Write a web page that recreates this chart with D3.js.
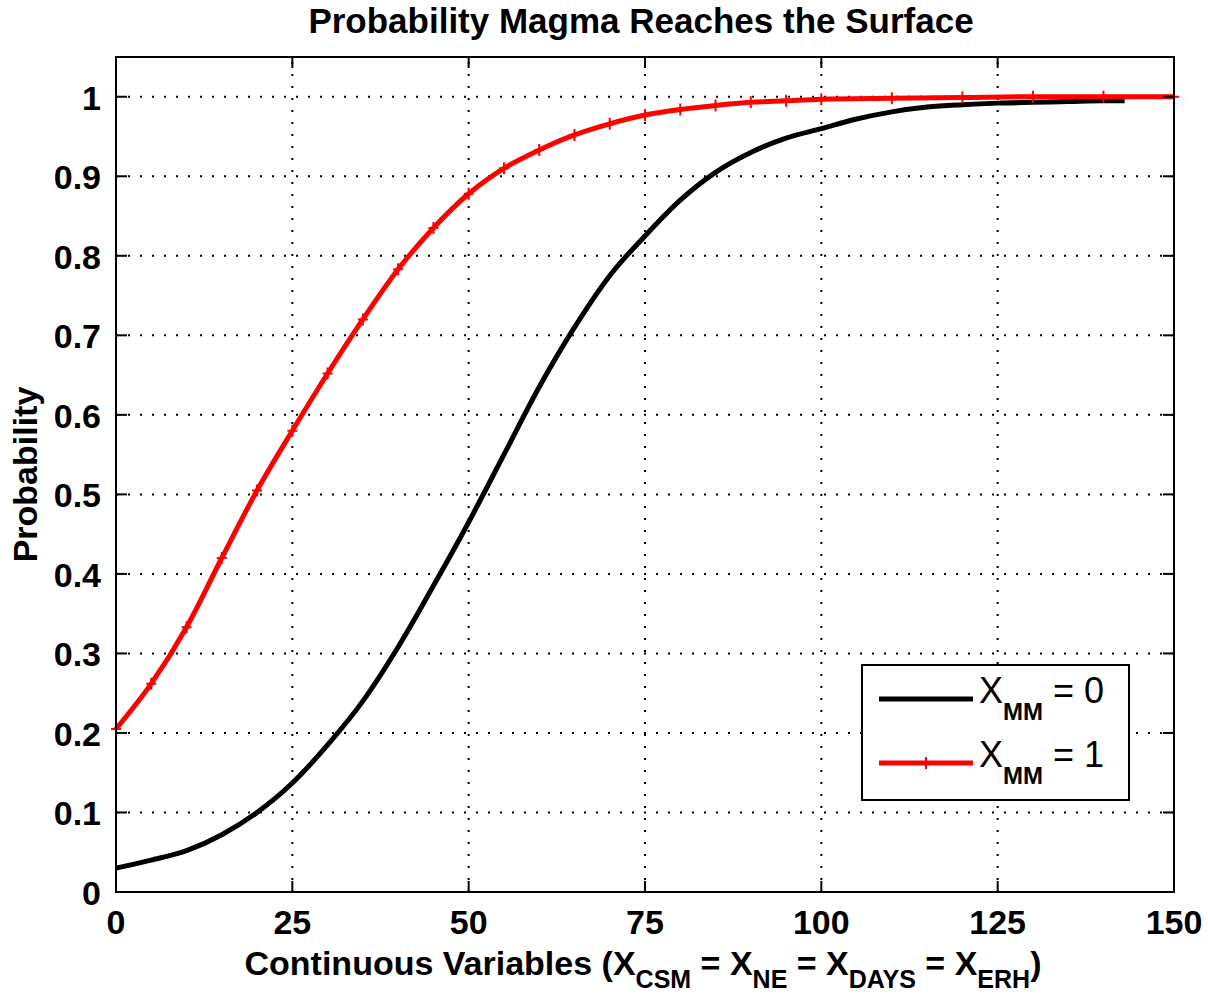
<!DOCTYPE html>
<html>
<head>
<meta charset="utf-8">
<script src="https://cdn.jsdelivr.net/npm/d3@7"></script>
<style>
  body { margin: 0; background: #fff; }
  svg text { font-family: "Liberation Sans", Arial, sans-serif; font-weight: bold; fill: #000; }
</style>
</head>
<body>
<div id="chart"></div>
<script>
// values
var xValues = [0, 5, 10, 15, 20, 25, 30, 35, 40, 45, 50, 55, 60, 65, 70, 75, 80, 85, 90, 95, 100, 105, 110, 115, 120, 125, 130, 135, 140, 143]
var mm0 = [0.030, 0.040, 0.052, 0.072, 0.100, 0.137, 0.185, 0.240, 0.308, 0.385, 0.465, 0.550, 0.635, 0.710, 0.775, 0.825, 0.870, 0.905, 0.930, 0.948, 0.960, 0.972, 0.981, 0.987, 0.990, 0.992, 0.993, 0.994, 0.995, 0.995]

var xValuesRed = [0, 5, 10, 15, 20, 25, 30, 35, 40, 45, 50, 55, 60, 65, 70, 75, 80, 85, 90, 95, 100, 110, 120, 130, 140, 150]
var mm1 = [0.205, 0.262, 0.333, 0.420, 0.505, 0.580, 0.652, 0.720, 0.783, 0.835, 0.878, 0.910, 0.933, 0.952, 0.966, 0.977, 0.984, 0.989, 0.993, 0.995, 0.997, 0.998, 0.999, 1.0, 1.0, 1.0]

var xTicks = [0, 25, 50, 75, 100, 125, 150]
var yTicks = [0, 0.1, 0.2, 0.3, 0.4, 0.5, 0.6, 0.7, 0.8, 0.9, 1]

var seriesNames = ['0', '1']
var seriesColors = ['#000', '#f00']


var W = 1208, H = 1000
var margin = {left: 116, top: 57, right: 34, bottom: 108}
var width = W - margin.left - margin.right
var height = H - margin.top - margin.bottom

var svg = d3.select('#chart').append('svg')
  .attr('width', W).attr('height', H)

var x = d3.scaleLinear().domain([0, 150]).range([margin.left, margin.left + width])
var y = d3.scaleLinear().domain([0, 1.05]).range([margin.top + height, margin.top])

// dotted grid
var grid = svg.append('g')
grid.selectAll('line.gx').data(xTicks.slice(1, -1)).join('line')
  .attr('x1', d => x(d)).attr('x2', d => x(d))
  .attr('y1', y(0)).attr('y2', y(1.05))
grid.selectAll('line.gy').data(yTicks.slice(1)).join('line')
  .attr('class', 'gy')
  .attr('x1', x(0)).attr('x2', x(150))
  .attr('y1', d => y(d)).attr('y2', d => y(d))
grid.selectAll('line')
  .attr('stroke', '#000').attr('stroke-width', 2)
  .attr('stroke-dasharray', '2,10')

// curves
var line = d3.line().curve(d3.curveMonotoneX)
var curves = [
  {pts: xValues.map((d, i) => [d, mm0[i]]), color: seriesColors[0]},
  {pts: xValuesRed.map((d, i) => [d, mm1[i]]), color: seriesColors[1], marker: true}
]
curves.forEach(function(c){
  svg.append('path')
    .attr('d', line(c.pts.map(p => [x(p[0]), y(p[1])])))
    .attr('fill', 'none').attr('stroke', c.color).attr('stroke-width', 5)
    .attr('stroke-linejoin', 'round')
  if (c.marker){
    svg.append('g').selectAll('path').data(c.pts).join('path')
      .attr('d', p => `M${x(p[0]) - 5},${y(p[1])}H${x(p[0]) + 5}M${x(p[0])},${y(p[1]) - 6}V${y(p[1]) + 6}`)
      .attr('stroke', c.color).attr('stroke-width', 2)
  }
})

// axes box with inward ticks on all sides
var ax = svg.append('g')
  .attr('stroke', '#000').attr('stroke-width', 2)
ax.append('rect')
  .attr('x', x(0)).attr('y', y(1.05))
  .attr('width', x(150) - x(0)).attr('height', y(0) - y(1.05))
  .attr('fill', 'none')
var tl = 11
xTicks.forEach(function(d){
  ax.append('line').attr('x1', x(d)).attr('x2', x(d)).attr('y1', y(0)).attr('y2', y(0) - tl)
  ax.append('line').attr('x1', x(d)).attr('x2', x(d)).attr('y1', y(1.05)).attr('y2', y(1.05) + tl)
})
yTicks.forEach(function(d){
  ax.append('line').attr('x1', x(0)).attr('x2', x(0) + tl).attr('y1', y(d)).attr('y2', y(d))
  ax.append('line').attr('x1', x(150)).attr('x2', x(150) - tl).attr('y1', y(d)).attr('y2', y(d))
})

svg.append('g').selectAll('text').data(xTicks).join('text')
  .attr('x', d => x(d)).attr('y', y(0) + 42)
  .attr('text-anchor', 'middle').attr('font-size', 34)
  .text(d => d)

svg.append('g').selectAll('text').data(yTicks).join('text')
  .attr('x', x(0) - 15).attr('y', d => y(d) + 13)
  .attr('text-anchor', 'end').attr('font-size', 34)
  .text(d => d3.format('~g')(d))

// title and labels
svg.append('text')
  .attr('x', (x(0) + x(150)) / 2 - 4).attr('y', 33)
  .attr('text-anchor', 'middle').attr('font-size', 35)
  .text('Probability Magma Reaches the Surface')

svg.append('text')
  .attr('transform', 'translate(37,' + ((y(0) + y(1.05)) / 2) + ') rotate(-90)')
  .attr('text-anchor', 'middle').attr('font-size', 34)
  .text('Probability')

var xl = svg.append('text')
  .attr('x', 643).attr('y', 975)
  .attr('text-anchor', 'middle').attr('font-size', 34)
var parts = [['Continuous Variables (X', 'CSM'], [' = X', 'NE'], [' = X', 'DAYS'], [' = X', 'ERH'], [')', null]]
var shift = 0
parts.forEach(function(p){
  xl.append('tspan').attr('dy', -shift).text(p[0])
  shift = 0
  if (p[1]) {
    xl.append('tspan').attr('font-size', 25).attr('dy', 13).text(p[1])
    shift = 13
  }
})

// legend
var lg = svg.append('g').attr('transform', 'translate(862,665)')
lg.append('rect').attr('width', 267).attr('height', 135)
  .attr('fill', '#fff').attr('stroke', '#000').attr('stroke-width', 2)
seriesNames.forEach(function(name, i){
  var row = lg.append('g').attr('transform', 'translate(0,' + (34 + i * 64) + ')')
  row.append('line').attr('x1', 17).attr('x2', 111)
    .attr('stroke', seriesColors[i]).attr('stroke-width', 5)
  if (i == 1) {
    row.append('path').attr('d', 'M59,0H69M64,-6V6')
      .attr('stroke', seriesColors[i]).attr('stroke-width', 2)
  }
  var t = row.append('text').attr('x', 117).attr('y', 4).attr('font-size', 36)
  t.append('tspan').attr('font-weight', 'normal').text('X')
  t.append('tspan').attr('font-size', 24).attr('dy', 17).text('MM')
  t.append('tspan').attr('font-weight', 'normal').attr('dy', -17).text(' = ' + name)
})
</script>
</body>
</html>
